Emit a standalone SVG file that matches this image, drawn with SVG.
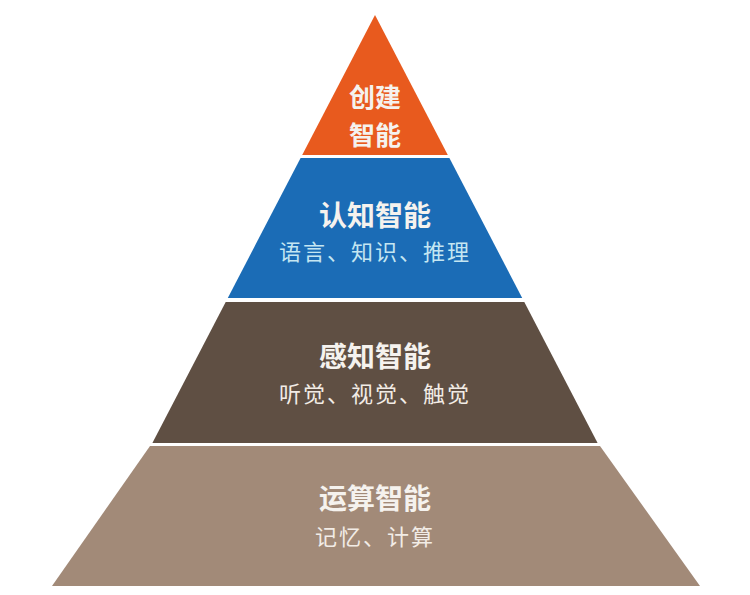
<svg xmlns="http://www.w3.org/2000/svg" width="750" height="595" viewBox="0 0 750 595">
<style>
text{font-family:"Noto Sans CJK SC","Noto Sans",sans-serif;text-anchor:middle;dominant-baseline:central}
.t{font-weight:bold;font-size:28px;fill:#f5f2ee}
.c{font-size:26px}
.s{font-size:22px;fill:#f2ece6;letter-spacing:2px}
</style>
<rect width="750" height="595" fill="#fff"/>
<g id="create">
<polygon points="375,15 447.8,155 302.2,155" fill="#e85a1e"/>
<text class="t c" x="375" y="95">创建</text>
<text class="t c" x="375" y="133">智能</text>
</g>
<g id="cognitive">
<polygon points="449.4,158 522.2,298 227.8,298 300.6,158" fill="#1b6cb6"/>
<text class="t" x="375" y="214">认知智能</text>
<text class="s" x="375" y="250" style="fill:#c4e6f2">语言、知识、推理</text>
</g>
<g id="perception">
<polygon points="524.3,302 597.6,443 152.4,443 225.7,302" fill="#5f4f43"/>
<text class="t" x="375" y="355">感知智能</text>
<text class="s" x="375" y="392">听觉、视觉、触觉</text>
</g>
<g id="compute">
<polygon points="600,446 700,586 52,586 150,446" fill="#a28a78"/>
<text class="t" x="375" y="497">运算智能</text>
<text class="s" x="375" y="535">记忆、计算</text>
</g>
<g id="connectors"/>
</svg>
